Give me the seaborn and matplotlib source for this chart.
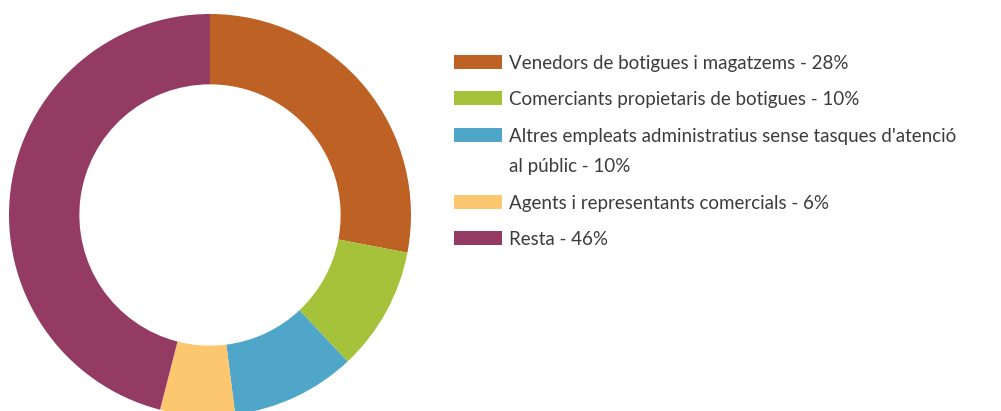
import matplotlib
matplotlib.use("Agg")
import matplotlib.pyplot as plt
import seaborn as sns
from matplotlib.patches import Rectangle

categories = [
    "Venedors de botigues i magatzems",
    "Comerciants propietaris de botigues",
    "Altres empleats administratius sense tasques d'atenció\nal públic",
    "Agents i representants comercials",
    "Resta",
]
values = [28, 10, 10, 6, 46]
colors = ["#BD6224", "#A5C23A", "#4FA6C8", "#FCC76E", "#933B63"]

sns.set_style("white")
plt.rcParams["font.family"] = ["Lato", "DejaVu Sans"]

W, H = 1001, 411
fig = plt.figure(figsize=(W / 100, H / 100), dpi=100)

# donut axes (in pixels: center ~ (210, 215), radius ~201)
cx, cy, r = 210, 215, 201
ax = fig.add_axes([(cx - r) / W, (H - (cy + r)) / H, 2 * r / W, 2 * r / H])
ax.pie(values, colors=colors, startangle=90, counterclock=False,
       radius=1.0, wedgeprops=dict(width=0.35, linewidth=0, edgecolor="none"))
ax.set_xlim(-1, 1)
ax.set_ylim(-1, 1)
ax.set_aspect("equal")
ax.axis("off")

# legend
y_pos = [62, 98, 135, 202, 238]
for lab, v, c, yp in zip(categories, values, colors, y_pos):
    fig.patches.append(Rectangle((454 / W, 1 - (yp + 7) / H), 48 / W, 14 / H,
                                 transform=fig.transFigure, facecolor=c,
                                 edgecolor="none"))
    lines = f"{lab} - {v}%".split("\n")
    for k, line in enumerate(lines):
        fig.text(509 / W, 1 - (yp + 30 * k) / H, line, fontsize=13.5,
                 color="#3c3c3c", va="center_baseline", ha="left")

fig.savefig("out.png", dpi=100, facecolor="white")
